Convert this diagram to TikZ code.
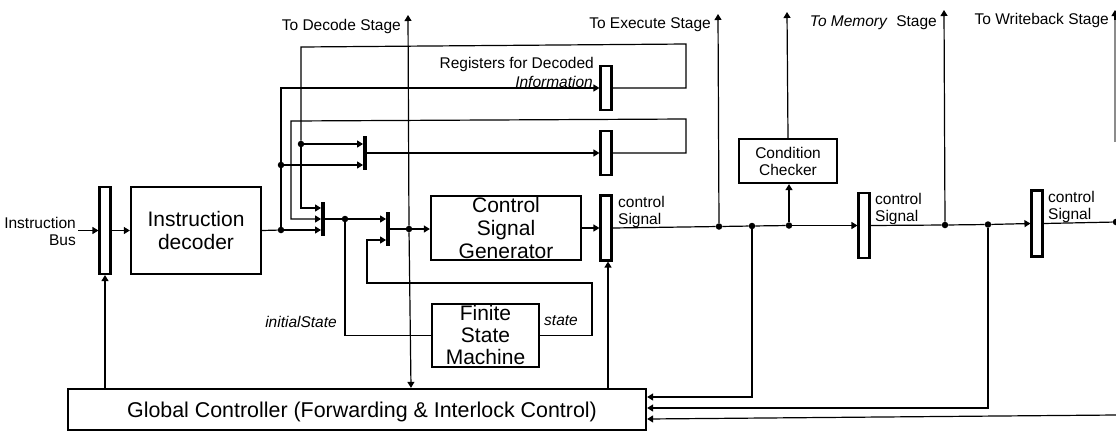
\documentclass[tikz,border=0pt]{standalone}
\usepackage{fontspec}
\setmainfont{Liberation Sans}
\usetikzlibrary{arrows.meta,calc}
\tikzset{
  x=1pt,y=-1pt,
  wire/.style={line width=1.2pt,line join=miter},
  arr/.style={wire,-{Triangle[length=6pt,width=7pt]}},
  blockbox/.style={draw,line width=2.3pt,inner sep=0pt,align=center},
  regbox/.style={draw,line width=2.1pt,inner sep=0pt,minimum width=11pt},
  muxbar/.style={fill=black,inner sep=0pt,minimum width=3.5pt},
  dot/.style={circle,fill=black,inner sep=0pt,minimum size=6.5pt},
  big/.style={font=\fontsize{21}{23}\selectfont},
  small/.style={font=\fontsize{15.5}{17}\selectfont,inner sep=0pt},
  ital/.style={font=\fontsize{15.5}{17}\selectfont\itshape,inner sep=0pt},
}
\begin{document}
\begin{tikzpicture}
\useasboundingbox (0,0) rectangle (1116,432);
\fill[white] (0,0) rectangle (1116,432);

% registers
\node[regbox,minimum height=87pt] (reg0) at (105,230.5) {};
\node[regbox,minimum height=44pt] (reg1) at (606,88) {};
\node[regbox,minimum height=44pt] (reg2) at (606,153) {};
\node[regbox,minimum height=65pt] (reg3) at (606,228) {};
\node[regbox,minimum height=65pt] (reg4) at (864,225.5) {};
\node[regbox,minimum height=66pt] (reg5) at (1037,223.5) {};

% blocks
\node[blockbox,big,minimum width=130pt,minimum height=87pt] (id) at (196,230.5) {Instruction\\decoder};
\node[blockbox,minimum width=150pt,minimum height=64pt,
  label={[big,align=center,inner sep=0pt]center:Control\\Signal\\Generator}] (csg) at (506,228) {};
\node[blockbox,minimum width=107pt,minimum height=63pt,
  label={[font=\fontsize{21}{22}\selectfont,align=center,inner sep=0pt,yshift=1pt]center:Finite\\State\\Machine}] (fsm) at (485.5,335.5) {};
\node[blockbox,font=\fontsize{15.5}{17}\selectfont,minimum width=98pt,minimum height=44pt] (cc) at (788,161) {Condition\\Checker};
\node[blockbox,minimum width=578pt,minimum height=41pt,
  label={[font=\fontsize{21.4}{23}\selectfont,inner sep=0pt,xshift=5pt,yshift=-2pt]center:Global Controller (Forwarding \& Interlock Control)}] (gc) at (357,409.5) {};

% multiplexers
\node[muxbar,minimum height=34pt] (mux1) at (365,153) {};
\node[muxbar,minimum height=34pt] (mux2) at (323,219) {};
\node[muxbar,minimum height=34pt] (mux3) at (388,229) {};

% junctions
\node[dot] (jA) at (281,165) {};
\node[dot] (jB) at (301,144) {};
\node[dot] (j1) at (281,230) {};
\node[dot] (jC) at (345,219) {};
\node[dot] (jD) at (409,229) {};
\node[dot] (jE) at (719,226.5) {};
\node[dot] (jF) at (752,226) {};
\node[dot] (jG) at (789,225.5) {};
\node[dot] (jH) at (945,225) {};
\node[dot] (jI) at (988,224.5) {};
\node[dot] (jJ) at (1116,222) {};

% free ends and corners
\coordinate (busin) at (78,230.5);
\coordinate (decTop) at (408,15);
\coordinate (exTop) at (718,14);
\coordinate (ccTop) at (787,12);
\coordinate (memTop) at (944,10);
\coordinate (wbTop) at (1115,10);
\coordinate (wbMid) at (1115,20);
\coordinate (wbEnd) at (1115,142);
\coordinate (topL) at (301,47);
\coordinate (topR) at (686,44);
\coordinate (midL) at (291,121);
\coordinate (midR) at (686,119);
\coordinate (fb1) at (592,283);
\coordinate (fb2) at (367,283);
\coordinate (busR) at (1116,415);
\coordinate (m2a) at ($(mux2.west)+(0,-11)$);
\coordinate (m2c) at ($(mux2.west)+(0,11)$);
\coordinate (m3a) at ($(mux3.west)+(0,-10)$);
\coordinate (m3b) at ($(mux3.west)+(0,11)$);
\coordinate (gcA) at ($(gc.east)+(0,-12.5)$);
\coordinate (gcB) at ($(gc.east)+(0,-1.5)$);
\coordinate (gcC) at ($(gc.east)+(0,9.5)$);

% front end
\draw[arr] (busin) -- (reg0.west);
\draw[arr] (reg0.east) -- (id.west);
\draw[wire] (id.east) -- (j1);
\draw[arr] (j1) -- (m2c);
\draw[wire] (j1) -- (jA);
\draw[arr] (jA) -- (jA |- reg1.west) -- (reg1.west);
\draw[arr] (jA) -- ($(mux1.west)+(0,12)$);
\draw[arr] (jB) -- ($(mux1.west)+(0,-9)$);
\draw[arr] (mux1.east) -- (reg2.west);

% register feedback
\draw[wire] (reg1.east) -- (topR |- reg1.east) -- (topR) -- (topL) -- (jB);
\draw[arr] (jB) -- (jB |- m2a) -- (m2a);
\draw[arr] (reg2.east) -- (midR |- reg2.east) -- (midR) -- (midL) -- (midL |- mux2.west) -- (mux2.west);

% selection and control
\draw[wire] (mux2.east) -- (jC);
\draw[arr] (jC) -- (m3a);
\draw[wire] (fsm.west) -- (jC |- fsm.west) -- (jC);
\draw[arr] (fsm.east) -- (fb1 |- fsm.east) -- (fb1) -- (fb2) -- (fb2 |- m3b) -- (m3b);
\draw[wire] (mux3.east) -- (jD);
\draw[arr] (jD) -- (jD -| csg.west);
\draw[arr] (jD) -- (decTop);
\draw[arr] (jD) -- ($(gc.north)+(54,0)$);
\draw[arr] (csg.east) -- (reg3.west);

% pipeline
\draw[wire] (reg3.east) -- (jE) -- (jF) -- (jG);
\draw[arr] (jG) -- (reg4.west);
\draw[wire] (reg4.east) -- (jH) -- (jI);
\draw[arr] (jI) -- (reg5.west);
\draw[wire] (reg5.east) -- (jJ);
\draw[arr] (jE) -- (exTop);
\draw[arr] (jG) -- (jG |- cc.south);
\draw[arr] (cc.north) -- (ccTop);
\draw[arr] (jH) -- (memTop);
\draw[wire,black!45] (wbEnd) -- (wbMid);
\draw[arr] (wbMid) -- (wbTop);

% global controller
\draw[arr] (gc.north -| reg0.south) -- (reg0.south);
\draw[arr] ($(gc.north)+(251,0)$) -- ($(reg3.south)+(2,0)$);
\draw[arr] (jF) -- (jF |- gcA) -- (gcA);
\draw[arr] (jI) -- (jI |- gcB) -- (gcB);
\draw[arr] (busR) -- (gcC);

% labels
\node[small,anchor=east,align=right] (lbus) at (76,231) {Instruction\\Bus};
\node[small,anchor=east] (ldec) at (401,26.5) {To Decode Stage};
\node[small,anchor=east] (lex) at (711,24.5) {To Execute Stage};
\node[small,anchor=east] (lmem) at (937,22.5) {\textit{To Memory}\ \ Stage};
\node[small,anchor=east] (lwb) at (1109,20.5) {To Writeback Stage};
\node[small,anchor=east] (lreg) at (594,64) {Registers for Decoded};
\node[ital,anchor=east] (linf) at (593,82) {Information};
\node[ital,anchor=east] (linit) at (337,322) {initialState};
\node[ital,anchor=west] (lstate) at (544,321) {state};
\node[small,anchor=west,align=left] (lc3) at (618,212) {control\\Signal};
\node[small,anchor=west,align=left] (lc4) at (875,209) {control\\Signal};
\node[small,anchor=west,align=left] (lc5) at (1048,207) {control\\Signal};
\end{tikzpicture}
\end{document}
